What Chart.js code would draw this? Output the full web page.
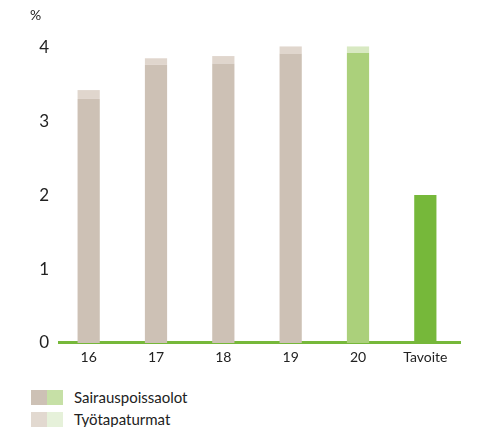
<!DOCTYPE html>
<html>
<head>
<meta charset="utf-8">
<script src="https://cdn.jsdelivr.net/npm/chart.js"></script>
<style>
  html, body { margin: 0; padding: 0; background: #fff; }
  body { width: 480px; height: 427px; position: relative; overflow: hidden; font-family: Lato, sans-serif; }
  #wrap { position: absolute; left: 0; top: 0; width: 480px; height: 370px; }
  .legend { position: absolute; left: 31px; font-size: 15px; color: #222; display: flex; align-items: center; }
  .sw { width: 16px; height: 15px; display: inline-block; }
  .legend span.txt { margin-left: 11px; }
</style>
</head>
<body>
<div id="wrap"><canvas id="chart"></canvas></div>
<div class="legend" style="top:388px"><i class="sw" style="background:#cdc1b5"></i><i class="sw" style="background:#c6e0a6"></i><span class="txt">Sairauspoissaolot</span></div>
<div class="legend" style="top:410px"><i class="sw" style="background:#e2d9d0"></i><i class="sw" style="background:#e6f1da"></i><span class="txt">Työtapaturmat</span></div>
<script>
// values (%)
const years = ['16', '17', '18', '19', '20', 'Tavoite'];
const sairauspoissaolot = [3.30, 3.76, 3.78, 3.91, 3.92, 2.0];
const tyotapaturmat = [0.12, 0.09, 0.10, 0.10, 0.09, null];

const beige = '#cdc1b5', beigeLight = '#e0d6cd';
const green = '#abd07b', greenLight = '#d8e9c2', greenDark = '#76b83a';

// % unit above the y axis + green base line (runs a bit right of the plot area)
const extras = {
    id: 'extras',
    beforeDatasetsDraw(chart) {
        const ctx = chart.ctx;
        const y0 = chart.scales.y.getPixelForValue(0);
        ctx.save();
        ctx.strokeStyle = greenDark;
        ctx.lineWidth = 3;
        ctx.beginPath();
        ctx.moveTo(58, y0 - 0.5);
        ctx.lineTo(461, y0 - 0.5);
        ctx.stroke();
        ctx.restore();
    },
    afterDraw(chart) {
        const ctx = chart.ctx;
        ctx.save();
        ctx.font = '14px Lato, sans-serif';
        ctx.fillStyle = '#222';
        ctx.textAlign = 'left';
        ctx.textBaseline = 'middle';
        ctx.fillText('%', 30, 15);
        ctx.restore();
    }
};

const ctx = document.getElementById('chart').getContext('2d');
new Chart(ctx, {
    type: 'bar',
    data: {
        labels: years,
        datasets: [{
            label: 'Sairauspoissaolot',
            data: sairauspoissaolot,
            backgroundColor: [beige, beige, beige, beige, green, greenDark],
            categoryPercentage: 1,
            barPercentage: 0.33
        }, {
            label: 'Työtapaturmat',
            data: tyotapaturmat,
            backgroundColor: [beigeLight, beigeLight, beigeLight, beigeLight, greenLight, greenLight],
            categoryPercentage: 1,
            barPercentage: 0.33
        }]
    },
    options: {
        responsive: true,
        maintainAspectRatio: false,
        animation: false,
        layout: { padding: { top: 25, right: 21, bottom: 0, left: 0 } },
        plugins: {
            legend: { display: false },
            tooltip: { enabled: false }
        },
        scales: {
            x: {
                stacked: true,
                grid: { display: false, drawTicks: false },
                border: { display: false },
                ticks: { color: '#222', font: { family: 'Lato', size: 14 }, padding: 6 },
                afterFit: function(scale) { scale.height = 27; }
            },
            y: {
                stacked: true,
                min: 0,
                max: 4.3,
                grid: { display: false, drawTicks: false },
                border: { display: false },
                ticks: {
                    stepSize: 1,
                    color: '#222',
                    font: { family: 'Lato', size: 17 },
                    padding: 6,
                    callback: function(v) { return Number.isInteger(v) ? v : ''; }
                },
                afterFit: function(scale) { scale.width = 55; }
            }
        }
    },
    plugins: [extras]
});
</script>
</body>
</html>
